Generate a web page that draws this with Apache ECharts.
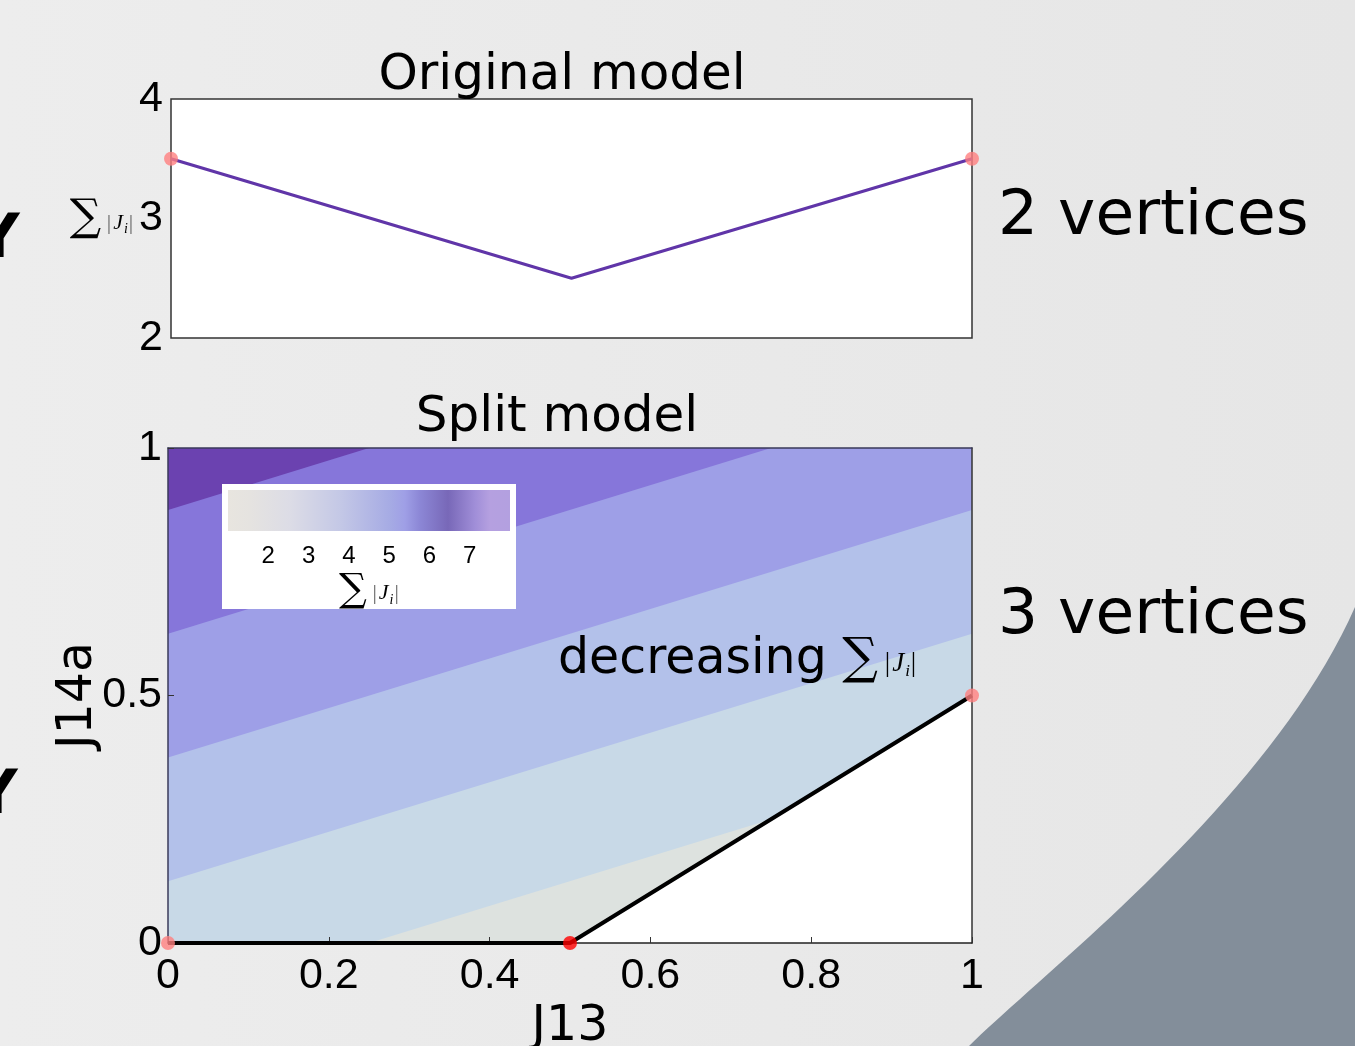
<!DOCTYPE html>
<html><head><meta charset="utf-8">
<script src="https://cdn.jsdelivr.net/npm/echarts@6/dist/echarts.min.js"></script>
<style>html,body{margin:0;padding:0;background:#e9e9e9;} #c{width:1355px;height:1046px;}</style>
</head><body><div id="c"></div>
<script>
// ---- data ----
const topJ13 = [0, 0.5, 1];
const topSum = [3.5, 2.5, 3.5];
const topVertices = [[0, 3.5], [1, 3.5]];
const topYTicks = [2, 3, 4];

const bandColors = ['#6b42b0', '#8676da', '#9e9fe7', '#b3c1ea', '#c8d9e7', '#dde2df'];
const bandEdgeAtJ13_0 = [1.0, 0.875, 0.625, 0.375, 0.125, -0.125];
const bandEdgeAtJ13_1 = [1.0, 1.375, 1.125, 0.875, 0.625, 0.375];
const boundaryJ13 = [0, 0.5, 1];
const boundaryJ14a = [0, 0, 0.5];
const splitVertices = [[0, 0], [1, 0.5]];
const splitMinVertex = [[0.5, 0]];
const splitXTicks = [0, 0.2, 0.4, 0.6, 0.8, 1];
const splitYTicks = [0, 0.5, 1];

const cbTickLabels = [2, 3, 4, 5, 6, 7];
const cbValues = [1.0, 1.55, 2.54, 3.78, 5.02, 5.39, 5.76, 6.46, 7.13, 7.5, 8.0];
const cbColors = ['#e8e5df', '#e5e3e0', '#dcdce6', '#c4c8e6', '#a6abe4', '#9f9fe6', '#8c87d6', '#7868b8', '#a08ed8', '#b5a0e0', '#b3a0e0'];

// ---- decoration: dark corner shape (cubic bezier outline) ----
function bezierPts(p0, c1, c2, p1, n) {
  const pts = [];
  for (let k = 0; k <= n; k++) {
    const t = k / n, u = 1 - t;
    pts.push([
      u*u*u*p0[0] + 3*u*u*t*c1[0] + 3*u*t*t*c2[0] + t*t*t*p1[0],
      u*u*u*p0[1] + 3*u*u*t*c1[1] + 3*u*t*t*c2[1] + t*t*t*p1[1]
    ]);
  }
  return pts;
}
const cornerPts = bezierPts([969, 1046], [1040, 975], [1270, 800], [1355, 607], 40).concat([[1355, 1046]]);

// ---- chart ----
const chart = echarts.init(document.getElementById('c'), null, {renderer: 'canvas'});
const tickFont = 'Liberation Sans';
const sumRich = (s, p, i, drop) => ({
  s: {fontFamily: 'DejaVu Serif', fontSize: s, color: '#000', verticalAlign: 'middle'},
  p: {fontFamily: 'Liberation Serif', fontSize: p, color: '#666', verticalAlign: 'middle', padding: [drop, 0, 0, 0]},
  j: {fontFamily: 'Liberation Serif', fontStyle: 'italic', fontSize: p, color: '#000', verticalAlign: 'middle', padding: [drop, 1, 0, 2]},
  i: {fontFamily: 'Liberation Serif', fontStyle: 'italic', fontSize: i, color: '#000', verticalAlign: 'middle', padding: [drop + Math.round(i*0.9), 1, 0, 0]}
});
const sumText = '{s|∑}{p| |}{j|J}{i|i}{p||}';

const bandSeries = bandColors.map((c, k) => ({
  type: 'line', xAxisIndex: 1, yAxisIndex: 1, silent: true, symbol: 'none',
  data: [[0, bandEdgeAtJ13_0[k]], [1, bandEdgeAtJ13_1[k]]],
  lineStyle: {width: 0, opacity: 0},
  areaStyle: {color: c, opacity: 1, origin: 'start'},
  z: 2
}));

const txt = (text, x, y, font, align, z) => ({type: 'text', z: z || 1, silent: true,
  style: {text: text, x: x, y: y, font: font, fill: '#000', textAlign: align, textVerticalAlign: 'middle', align: align, verticalAlign: 'middle'}});

const option = {
  animation: false,
  backgroundColor: 'transparent',
  grid: [
    {left: 171, top: 99, width: 801, height: 239, show: true, backgroundColor: '#fff', borderColor: '#333', borderWidth: 1.5, containLabel: false, outerBoundsMode: 'none'},
    {left: 168, top: 448, width: 804, height: 495, show: true, backgroundColor: '#fff', borderWidth: 0, containLabel: false, outerBoundsMode: 'none'},
    {left: 228, top: 490, width: 282, height: 41, show: false, containLabel: false, outerBoundsMode: 'none'}
  ],
  xAxis: [
    {gridIndex: 0, type: 'value', min: 0, max: 1, axisLine: {show: false}, axisTick: {show: false}, axisLabel: {show: false}, splitLine: {show: false}},
    {gridIndex: 1, type: 'value', min: 0, max: 1, interval: 0.2, z: 5,
      axisLine: {show: true, onZero: false, lineStyle: {color: '#222', width: 1.5}},
      axisTick: {show: true, inside: true, length: 6, lineStyle: {color: '#333'}},
      axisLabel: {fontFamily: tickFont, fontSize: 43, color: '#000', margin: 12,
        formatter: v => { const t = splitXTicks.find(x => Math.abs(x - v) < 1e-9); return t === undefined ? '' : String(t); }},
      splitLine: {show: false},
      name: 'J13', nameLocation: 'middle', nameGap: 60, nameMoveOverlap: false,
      nameTextStyle: {fontFamily: 'DejaVu Sans', fontSize: 49, color: '#000'}},
    {gridIndex: 1, type: 'value', position: 'top', min: 0, max: 1, z: 5,
      axisLine: {show: true, onZero: false, lineStyle: {color: '#3a3a5a', width: 1.5}},
      axisTick: {show: false}, axisLabel: {show: false}, splitLine: {show: false}},
    {gridIndex: 2, type: 'value', min: 1, max: 8, interval: 1, z: 12,
      axisLine: {show: false}, axisTick: {show: false}, splitLine: {show: false},
      axisLabel: {fontFamily: tickFont, fontSize: 24, color: '#000', margin: 13,
        formatter: v => cbTickLabels.indexOf(v) >= 0 ? String(v) : ''},
      name: sumText, nameLocation: 'middle', nameGap: 40,
      nameTextStyle: {rich: sumRich(39, 22, 14, 6)}}
  ],
  yAxis: [
    {gridIndex: 0, type: 'value', min: 2, max: 4, interval: 1,
      axisLine: {show: false}, axisTick: {show: false}, splitLine: {show: false},
      axisLabel: {fontFamily: tickFont, fontSize: 43, color: '#000', margin: 8,
        formatter: v => topYTicks.indexOf(v) >= 0 ? String(v) : ''},
      name: sumText, nameLocation: 'middle', nameRotate: 0, nameGap: 35,
      nameTextStyle: {rich: sumRich(44, 22, 14, 9)}},
    {gridIndex: 1, type: 'value', min: 0, max: 1, interval: 0.5, z: 5,
      axisLine: {show: true, onZero: false, lineStyle: {color: '#3a3a5a', width: 1.5}},
      axisTick: {show: true, inside: true, length: 6, lineStyle: {color: '#333'}},
      axisLabel: {fontFamily: tickFont, fontSize: 43, color: '#000', margin: 6,
        formatter: v => { const t = splitYTicks.find(x => Math.abs(x - v) < 1e-9); return t === undefined ? '' : String(t); }},
      splitLine: {show: false},
      name: 'J14a', nameLocation: 'middle', nameGap: 65, nameMoveOverlap: false,
      nameTextStyle: {fontFamily: 'DejaVu Sans', fontSize: 49, color: '#000'}},
    {gridIndex: 1, type: 'value', position: 'right', min: 0, max: 1, z: 5,
      axisLine: {show: true, onZero: false, lineStyle: {color: '#333', width: 1.5}},
      axisTick: {show: false}, axisLabel: {show: false}, splitLine: {show: false}},
    {gridIndex: 2, type: 'value', min: 0, max: 1, show: false}
  ],
  series: [
    {type: 'line', xAxisIndex: 0, yAxisIndex: 0, symbol: 'none', silent: true,
      data: topJ13.map((x, k) => [x, topSum[k]]),
      lineStyle: {color: '#6035a8', width: 3}, z: 3},
    {type: 'scatter', xAxisIndex: 0, yAxisIndex: 0, clip: false, silent: true,
      data: topVertices, symbolSize: 14, itemStyle: {color: '#ff8080'}, z: 4},
    ...bandSeries,
    {type: 'line', xAxisIndex: 1, yAxisIndex: 1, silent: true, symbol: 'none',
      data: [[boundaryJ13[1], boundaryJ14a[1]], [boundaryJ13[2], boundaryJ14a[2]]],
      lineStyle: {width: 0, opacity: 0},
      areaStyle: {color: '#ffffff', opacity: 1, origin: 'start'}, z: 2},
    {type: 'line', xAxisIndex: 1, yAxisIndex: 1, symbol: 'none', silent: true, clip: false,
      data: boundaryJ13.map((x, k) => [x, boundaryJ14a[k]]),
      lineStyle: {color: '#000', width: 4}, z: 6},
    {type: 'scatter', xAxisIndex: 1, yAxisIndex: 1, clip: false, silent: true,
      data: splitVertices, symbolSize: 14, itemStyle: {color: '#ff8080'}, z: 7},
    {type: 'scatter', xAxisIndex: 1, yAxisIndex: 1, clip: false, silent: true,
      data: splitMinVertex, symbolSize: 14, itemStyle: {color: '#ff0000'}, z: 7},
    {type: 'line', xAxisIndex: 3, yAxisIndex: 3, symbol: 'none', silent: true,
      data: [[cbValues[0], 1], [cbValues[cbValues.length - 1], 1]],
      lineStyle: {width: 0, opacity: 0},
      areaStyle: {opacity: 1, origin: 'start', color: {type: 'linear', x: 0, y: 0, x2: 1, y2: 0,
        colorStops: cbValues.map((v, k) => ({offset: (v - cbValues[0]) / (cbValues[cbValues.length - 1] - cbValues[0]), color: cbColors[k]}))}},
      z: 11}
  ],
  graphic: [
    {type: 'rect', z: -10, silent: true, shape: {x: 0, y: 0, width: 1355, height: 1046},
      style: {fill: {type: 'linear', x: 0, y: 0, x2: 1, y2: 0, colorStops: [{offset: 0, color: '#ededed'}, {offset: 1, color: '#e6e6e6'}]}}},
    {type: 'polygon', z: -5, silent: true, shape: {points: cornerPts}, style: {fill: '#838e9a'}},
    txt('Y', -2, 241, 'bold 60px "DejaVu Sans"', 'center'),
    txt('Y', -4, 797, 'bold 60px "DejaVu Sans"', 'center'),
    txt('Original model', 562, 76, '50px "DejaVu Sans"', 'center'),
    txt('Split model', 557, 418, '50px "DejaVu Sans"', 'center'),
    txt('2 vertices', 998, 218, '63px "DejaVu Sans"', 'left'),
    txt('3 vertices', 998, 617, '63px "DejaVu Sans"', 'left'),
    {type: 'text', z: 8, silent: true, style: {text: '{d|decreasing }' + sumText, x: 558, y: 660,
      textAlign: 'left', textVerticalAlign: 'middle', align: 'left', verticalAlign: 'middle',
      rich: Object.assign({d: {fontFamily: 'DejaVu Sans', fontSize: 49, color: '#000', verticalAlign: 'middle'}}, sumRich(50, 27, 17, 8))}},
    {type: 'rect', z: 10, silent: true, shape: {x: 222, y: 484, width: 294, height: 125}, style: {fill: '#fff'}}
  ]
};
chart.setOption(option);
</script>
</body></html>
